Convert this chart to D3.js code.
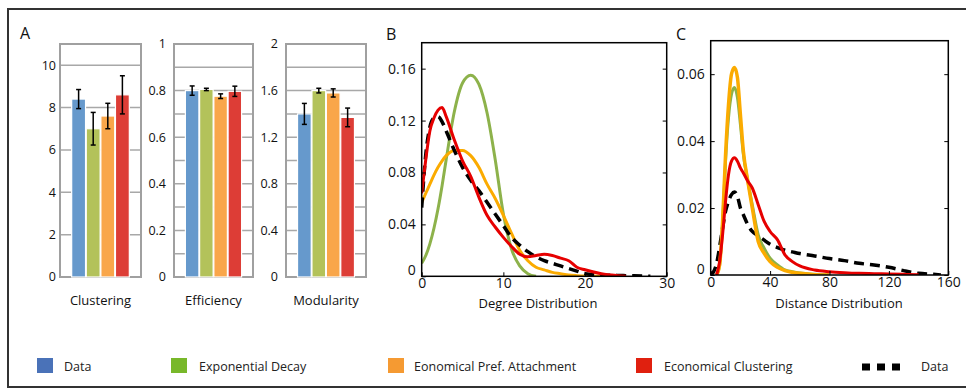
<!DOCTYPE html>
<html>
<head>
<meta charset="utf-8">
<script src="https://cdn.jsdelivr.net/npm/d3@7"></script>
<style>
  body { margin: 0; background: #fff; }
  svg { display: block; font-family: "Open Sans", sans-serif; }
</style>
</head>
<body>
<svg id="chart" width="966" height="389"></svg>
<script>
// ---- data ----
const models = ["Data", "Exponential Decay", "Eonomical Pref. Attachment", "Economical Clustering"];

const clusteringMean = [8.4, 7.0, 7.6, 8.6];
const clusteringErr  = [0.45, 0.77, 0.6, 0.9];
const efficiencyMean = [0.80, 0.805, 0.776, 0.797];
const efficiencyErr  = [0.02, 0.005, 0.01, 0.022];
const modularityMean = [1.40, 1.60, 1.58, 1.37];
const modularityErr  = [0.09, 0.02, 0.035, 0.08];

const clusteringTicks = [0, 2, 4, 6, 8, 10];
const efficiencyTicks = [0, 0.2, 0.4, 0.6, 0.8, 1];
const modularityTicks = [0, 0.4, 0.8, 1.2, 1.6, 2];

// degree distribution (panel B)
const degreeX     = [0, 0.5, 1, 1.5, 2, 2.5, 3, 4, 5, 6, 7, 8, 9, 10, 11, 12, 13, 14, 15, 16, 17, 18, 19, 20, 22, 24, 25, 26, 28];
const degreeData  = [0.053, 0.094, 0.115, 0.122, 0.123, 0.119, 0.112, 0.097, 0.084, 0.074, 0.066, 0.057, 0.048, 0.039, 0.030, 0.024, 0.019, 0.015, 0.012, 0.010, 0.008, 0.006, 0.004, 0.002, 0.001, 0.0007, 0.0005, 0.0004, 0];
const degreeExp   = [0.010, 0.016, 0.025, 0.037, 0.052, 0.070, 0.090, 0.127, 0.149, 0.155, 0.148, 0.126, 0.090, 0.048, 0.021, 0.008, 0.002, 0, null, null, null, null, null, null, null, null, null, null, null];
const degreePref  = [0.057, 0.064, 0.071, 0.078, 0.084, 0.089, 0.093, 0.097, 0.097, 0.093, 0.084, 0.071, 0.060, 0.047, 0.033, 0.020, 0.012, 0.007, 0.005, 0.003, 0.002, 0.001, 0.0005, 0.0002, 0, null, null, null, null];
const degreeClust = [0.064, 0.090, 0.112, 0.122, 0.128, 0.130, 0.123, 0.105, 0.089, 0.077, 0.061, 0.047, 0.038, 0.030, 0.023, 0.017, 0.015, 0.016, 0.017, 0.016, 0.014, 0.012, 0.007, 0.005, 0.002, 0.0005, 0, null, null];
const degreeTicksX = [0, 10, 20, 30];
const degreeTicksY = [0, 0.04, 0.08, 0.12, 0.16];

// distance distribution (panel C)
const distX     = [0, 2, 4, 6, 8, 10, 12, 14, 16, 18, 20, 22, 25, 28, 32, 36, 40, 45, 50, 55, 60, 70, 80, 90, 100, 110, 120, 130, 140, 150, 155];
const distData  = [0, 0.001, 0.0035, 0.0084, 0.014, 0.019, 0.022, 0.024, 0.0248, 0.0235, 0.020, 0.018, 0.015, 0.013, 0.0117, 0.0104, 0.0092, 0.0082, 0.0074, 0.0069, 0.0064, 0.0057, 0.0049, 0.0043, 0.0035, 0.003, 0.0023, 0.0013, 0.0005, 0.0002, 0];
const distExp   = [null, null, 0, 0.003, 0.0154, 0.034, 0.047, 0.054, 0.056, 0.053, 0.045, 0.036, 0.028, 0.021, 0.012, 0.008, 0.005, 0.003, 0.0015, 0.001, 0.0006, 0.0002, 0, null, null, null, null, null, null, null, null];
const distPref  = [null, null, 0, 0.003, 0.016, 0.036, 0.051, 0.060, 0.062, 0.059, 0.048, 0.037, 0.028, 0.020, 0.010, 0.0065, 0.004, 0.0023, 0.0013, 0.0008, 0.0005, 0.0001, 0, null, null, null, null, null, null, null, null];
const distClust = [null, null, 0, 0.004, 0.012, 0.022, 0.030, 0.034, 0.035, 0.034, 0.032, 0.0305, 0.028, 0.026, 0.021, 0.016, 0.013, 0.0105, 0.006, 0.004, 0.0027, 0.0015, 0.001, 0.0007, 0.0005, 0.0004, 0.0003, 0.0002, 0.0001, null, null];
const distTicksX = [0, 40, 80, 120, 160];
const distTicksY = [0, 0.02, 0.04, 0.06];

// ---- styles ----
const barColors    = ["#6699cc", "#b3c25a", "#f9a64a", "#dd3d36"];
const legendColors = ["#4a72b8", "#78b82a", "#f59a32", "#e0200f"];
const lineColors   = ["#8db24b", "#fbab00", "#e60000"];

const svg = d3.select("#chart");

// outer frame
svg.append("rect").attr("x", 8).attr("y", 9).attr("width", 966).attr("height", 378)
  .attr("fill", "none").attr("stroke", "#333").attr("stroke-width", 2);

// panel letters
[["A", 20, 39], ["B", 386, 40], ["C", 676, 40]].forEach(([t, x, y]) => {
  svg.append("text").attr("x", x).attr("y", y).attr("font-size", 16).attr("fill", "#111").text(t);
});

// ---- panel A: bar charts ----
function barPanel(x0, x1, top, maxVal, gridStep, ticks, mean, err, title, gap) {
  const bottom = 277;
  const y = d3.scaleLinear().domain([0, maxVal]).range([bottom, top]);
  const x = d3.scaleBand().domain(models).range([x0, x1]).paddingInner(0.05).paddingOuter(0.8);
  const g = svg.append("g");

  const grid = d3.range(0, maxVal + 1e-9, gridStep).map(v => +v.toFixed(4));
  g.selectAll(".grid").data(grid).join("line")
    .attr("x1", x0).attr("x2", x1)
    .attr("y1", d => y(d)).attr("y2", d => y(d))
    .attr("stroke", "#a8a8a8").attr("stroke-width", 1.5);

  g.append("rect").attr("x", x0).attr("y", top).attr("width", x1 - x0).attr("height", bottom - top)
    .attr("fill", "none").attr("stroke", "#a0a0a0").attr("stroke-width", 2);

  g.selectAll(".bar").data(models).join("rect")
    .attr("x", d => x(d)).attr("width", x.bandwidth())
    .attr("y", (d, i) => y(mean[i])).attr("height", (d, i) => bottom - y(mean[i]))
    .attr("fill", (d, i) => barColors[i]).attr("stroke", "#fff").attr("stroke-width", 1.2);

  const eb = g.selectAll(".err").data(models).join("g");
  eb.append("line")
    .attr("x1", d => x(d) + x.bandwidth() / 2).attr("x2", d => x(d) + x.bandwidth() / 2)
    .attr("y1", (d, i) => y(mean[i] + err[i])).attr("y2", (d, i) => y(mean[i] - err[i]))
    .attr("stroke", "#000").attr("stroke-width", 1.5);
  [1, -1].forEach(s => {
    eb.append("line")
      .attr("x1", d => x(d) + x.bandwidth() / 2 - 2.5).attr("x2", d => x(d) + x.bandwidth() / 2 + 2.5)
      .attr("y1", (d, i) => y(mean[i] + s * err[i])).attr("y2", (d, i) => y(mean[i] + s * err[i]))
      .attr("stroke", "#000").attr("stroke-width", 1.5);
  });

  g.selectAll(".tl").data(ticks).join("text")
    .attr("x", x0 - gap).attr("y", d => y(d)).attr("dy", "0.35em")
    .attr("text-anchor", "end").attr("font-size", 12.5).attr("fill", "#111")
    .text(d => String(d));

  g.append("text").attr("x", (x0 + x1) / 2).attr("y", 305)
    .attr("text-anchor", "middle").attr("font-size", 13).attr("fill", "#111").text(title);
}

barPanel(60, 141, 44, 11, 2, clusteringTicks, clusteringMean, clusteringErr, "Clustering", 4);
barPanel(174, 253, 44, 1, 0.1, efficiencyTicks, efficiencyMean, efficiencyErr, "Efficiency", 8);
barPanel(286, 366, 44, 2, 0.2, modularityTicks, modularityMean, modularityErr, "Modularity", 8);

// ---- panels B and C: line charts ----
function linePanel(box, xDomain, yDomain, xs, series, ticksX, ticksY, fmtY, title, titleX) {
  const x = d3.scaleLinear().domain(xDomain).range([box.left, box.right]);
  const y = d3.scaleLinear().domain(yDomain).range([box.bottom, box.top]);
  const g = svg.append("g");

  const clipId = "clip" + Math.round(box.left);
  g.append("clipPath").attr("id", clipId).append("rect")
    .attr("x", box.left).attr("y", box.top).attr("width", box.right - box.left).attr("height", box.bottom - box.top);

  const plot = g.append("g").attr("clip-path", `url(#${clipId})`);
  series.forEach(s => {
    const pts = xs.map((v, i) => [v, s.values[i]]);
    const line = d3.line().defined(d => d[1] != null)
      .x(d => x(d[0])).y(d => y(d[1])).curve(d3.curveMonotoneX);
    plot.append("path").datum(pts).attr("d", line)
      .attr("fill", "none").attr("stroke", s.color).attr("stroke-width", s.width)
      .attr("stroke-dasharray", s.dash || null).attr("stroke-linejoin", "round");
  });

  const ax = g.append("g").attr("transform", `translate(0,${box.bottom})`)
    .call(d3.axisBottom(x).tickValues(ticksX).tickSize(-4).tickPadding(2).tickFormat(d3.format("d")));
  const ay = g.append("g").attr("transform", `translate(${box.left},0)`)
    .call(d3.axisLeft(y).tickValues(ticksY).tickSize(-4).tickPadding(6).tickFormat(fmtY));
  g.append("g").attr("transform", `translate(${box.right},0)`)
    .call(d3.axisRight(y).tickValues(ticksY).tickSize(-4).tickFormat(""));
  [ax, ay].forEach(a => {
    a.selectAll("text").attr("font-size", 14).attr("fill", "#111").attr("font-family", "Open Sans, sans-serif");
  });
  g.selectAll(".domain").remove();
  g.selectAll(".tick line").attr("stroke", "#000").attr("stroke-width", 1);
  ay.selectAll(".tick text").filter(d => d === 0).attr("dy", "-0.1em");

  g.append("rect").attr("x", box.left).attr("y", box.top)
    .attr("width", box.right - box.left).attr("height", box.bottom - box.top)
    .attr("fill", "none").attr("stroke", "#000").attr("stroke-width", 1.5);

  g.append("text").attr("x", titleX).attr("y", 308)
    .attr("text-anchor", "middle").attr("font-size", 13).attr("fill", "#111").text(title);
}

const fmt2 = d => d === 0 ? "0" : d.toFixed(2);

linePanel({ left: 421.7, right: 666.7, top: 42.7, bottom: 276.3 }, [0, 30], [0, 0.18], degreeX, [
  { values: degreeExp,   color: lineColors[0], width: 3 },
  { values: degreePref,  color: lineColors[1], width: 3 },
  { values: degreeData,  color: "#000", width: 3.5, dash: "10,6" },
  { values: degreeClust, color: lineColors[2], width: 3 }
], degreeTicksX, degreeTicksY, fmt2, "Degree Distribution", 538);

linePanel({ left: 710.7, right: 948.3, top: 40.7, bottom: 275 }, [0, 160], [0, 0.07], distX, [
  { values: distData,  color: "#000", width: 3.5, dash: "10,6" },
  { values: distExp,   color: lineColors[0], width: 3 },
  { values: distPref,  color: lineColors[1], width: 3.5 },
  { values: distClust, color: lineColors[2], width: 3 }
], distTicksX, distTicksY, fmt2, "Distance Distribution", 839);

// ---- legend ----
const legendSquareX = [37, 171, 388, 636];
const legendTextX   = [64, 199, 414, 664];
models.forEach((m, i) => {
  svg.append("rect").attr("x", legendSquareX[i]).attr("y", 358).attr("width", 16).attr("height", 15)
    .attr("fill", legendColors[i]);
  svg.append("text").attr("x", legendTextX[i]).attr("y", 371).attr("font-size", 12.5)
    .attr("fill", "#222").text(m);
});
svg.append("line").attr("x1", 862).attr("x2", 901).attr("y1", 367).attr("y2", 367)
  .attr("stroke", "#000").attr("stroke-width", 7).attr("stroke-dasharray", "8,7");
svg.append("text").attr("x", 921).attr("y", 371).attr("font-size", 12.5).attr("fill", "#222").text("Data");
</script>
</body>
</html>
